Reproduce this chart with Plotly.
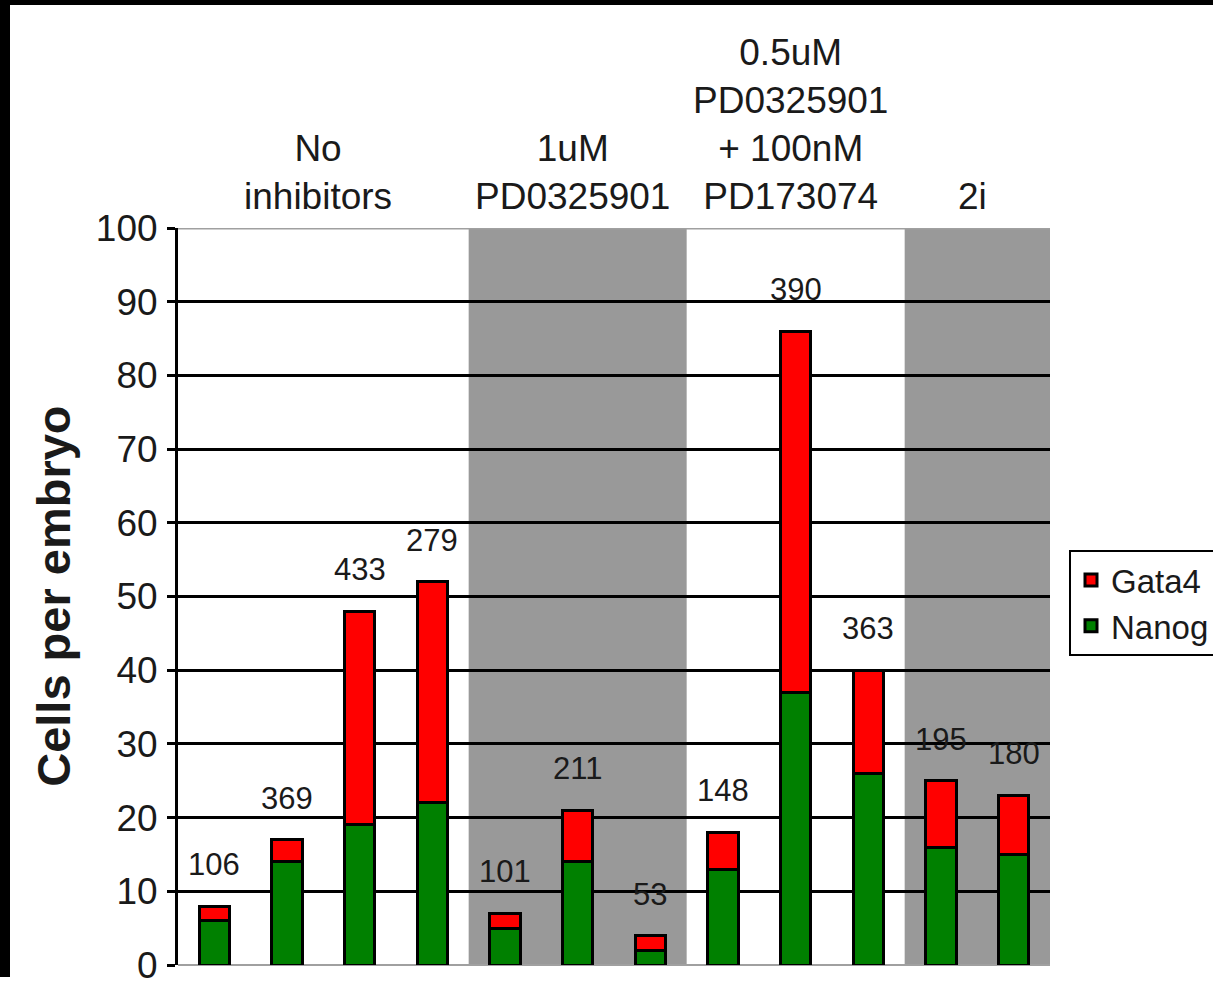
import plotly.graph_objects as go

# ---- data ----
samples = list(range(12))
nanog = [6, 14, 19, 22, 5, 14, 2, 13, 37, 26, 16, 15]
gata4 = [2, 3, 29, 30, 2, 7, 2, 5, 49, 14, 9, 8]
cell_counts = ["106", "369", "433", "279", "101", "211", "53", "148", "390", "363", "195", "180"]
group_labels = ["No<br>inhibitors", "1uM<br>PD0325901",
                "0.5uM<br>PD0325901<br>+ 100nM<br>PD173074", "2i"]
group_sizes = [4, 3, 3, 2]
group_shaded = [False, True, False, True]
y_ticks = [0, 10, 20, 30, 40, 50, 60, 70, 80, 90, 100]

FONT = "Liberation Sans, Arial, sans-serif"
TXT = "#1a1a1a"

fig = go.Figure()
fig.add_trace(go.Bar(x=samples, y=nanog, name="Nanog", width=0.42,
                     marker=dict(color="#008000", line=dict(color="black", width=3))))
fig.add_trace(go.Bar(x=samples, y=gata4, name="Gata4", width=0.42,
                     marker=dict(color="#ff0000", line=dict(color="black", width=3))))

shapes = []
annotations = []
start = 0
for lab, size, shade in zip(group_labels, group_sizes, group_shaded):
    x0 = start - 0.5
    x1 = start + size - 0.5
    if shade:
        shapes.append(dict(type="rect", xref="x", yref="y", x0=x0, x1=x1, y0=0, y1=100,
                           fillcolor="#999999", line=dict(width=0), layer="below"))
    annotations.append(dict(x=(x0 + x1) / 2, y=1, xref="x", yref="paper", text=lab,
                            showarrow=False, yanchor="bottom", xanchor="center",
                            yshift=9, xshift=-5,
                            font=dict(family=FONT, size=37, color=TXT)))
    start += size

# top line at 100 (gray)
shapes.append(dict(type="line", xref="paper", yref="y", x0=0, x1=1, y0=100, y1=100,
                   line=dict(color="#a0a0a0", width=3), layer="above"))

# count labels above each bar
for xi, n, g, c in zip(samples, nanog, gata4, cell_counts):
    annotations.append(dict(x=xi, y=n + g, xref="x", yref="y", text=c, showarrow=False,
                            yanchor="bottom", yshift=22,
                            font=dict(family=FONT, size=31, color=TXT)))

# y-axis title
annotations.append(dict(x=-0.143, y=0.5, xref="paper", yref="paper",
                        text="<b>Cells per embryo</b>", textangle=-90, showarrow=False,
                        xanchor="center", yanchor="middle",
                        font=dict(family=FONT, size=47, color=TXT)))

# black frame edges (top and left) as in reference image
W, H, L, R, T, B = 1213, 986, 178, 163, 228, 21
pw, ph = W - L - R, H - T - B
def px_x(p):
    return (p - L) / pw
def px_y(p):
    return (H - B - p) / ph
shapes.append(dict(type="rect", xref="paper", yref="paper", x0=px_x(-5), x1=px_x(W + 5),
                   y0=px_y(5), y1=px_y(-5), fillcolor="black", line=dict(width=0), layer="above"))
shapes.append(dict(type="rect", xref="paper", yref="paper", x0=px_x(-5), x1=px_x(10),
                   y0=px_y(977), y1=px_y(-5), fillcolor="black", line=dict(width=0), layer="above"))

fig.update_layout(
    width=W, height=H,
    margin=dict(l=L, r=R, t=T, b=B, autoexpand=False),
    barmode="stack",
    paper_bgcolor="white", plot_bgcolor="white",
    font=dict(family=FONT, color=TXT),
    shapes=shapes, annotations=annotations,
    showlegend=True,
    legend=dict(x=px_x(1069), y=px_y(550), xanchor="left", yanchor="top",
                bordercolor="black", borderwidth=2, bgcolor="white",
                font=dict(family=FONT, size=33, color=TXT), tracegroupgap=0),
    xaxis=dict(range=[-0.5, 11.5], showticklabels=False, showgrid=False, zeroline=False,
               showline=False, ticks=""),
    yaxis=dict(range=[0, 100], tickvals=y_ticks, showgrid=True, gridcolor="black", gridwidth=3,
               zeroline=True, zerolinecolor="#a0a0a0", zerolinewidth=2,
               showline=True, linecolor="black", linewidth=3,
               ticks="outside", ticklen=8, tickwidth=2.5, tickcolor="black",
               ticklabelstandoff=2,
               tickfont=dict(family=FONT, size=37, color=TXT)),
)

fig.write_html("out.html", config={"displayModeBar": False},
               post_script="document.body.style.margin='0px';document.body.style.overflow='hidden';")
